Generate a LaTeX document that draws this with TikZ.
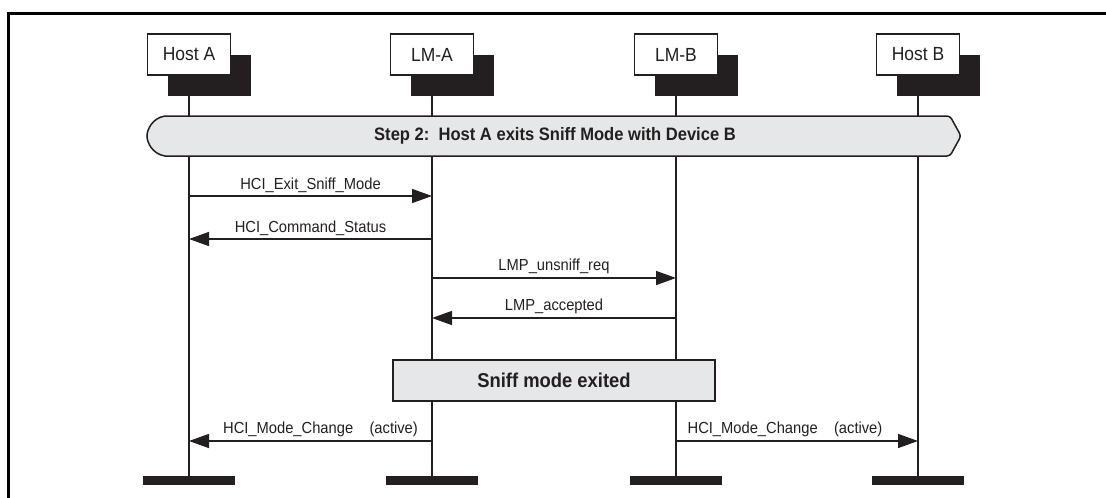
\documentclass[tikz,border=0pt]{standalone}
\usepackage{fontspec}
\setmainfont{Liberation Sans}[FakeStretch=0.92]
\usetikzlibrary{arrows.meta}
\definecolor{ink}{HTML}{231F20}
\definecolor{boxgray}{HTML}{E6E7E8}
\begin{document}
\begin{tikzpicture}[x=1pt, y=-1pt,
    ent/.style={draw=ink, line width=1.2pt, fill=white, minimum width=83pt,
      minimum height=41pt, inner sep=0pt, text=ink, font=\fontsize{19}{21}\selectfont},
    shadowbox/.style={fill=ink, minimum width=83pt, minimum height=41pt, inner sep=0pt},
    endbar/.style={fill=ink, minimum width=92pt, minimum height=9pt, inner sep=0pt},
    life/.style={draw=ink, line width=1.5pt},
    msg/.style={draw=ink, line width=1.5pt, -{Triangle[length=20pt, width=14pt]}},
    lbl/.style={above=3pt, inner sep=0pt, text=ink, font=\fontsize{16}{18}\selectfont},
    state/.style={draw=ink, line width=1.5pt, fill=boxgray, text=ink,
      font=\bfseries\fontsize{20}{22}\selectfont}]
  \useasboundingbox (0,0) rectangle (1106,498);
  \draw[line width=3pt] (1106,13) -- (8,13) -- (8,498);
  % instances and lifelines
  \foreach \n/\x/\t in {hostA/189/Host A, lmA/432/LM-A, lmB/676/LM-B, hostB/918/Host B} {
    \node[shadowbox] (\n-sh) at (\x+20,75.5) {};
    \node[ent] (\n) at (\x,54.5) {\t};
    \node[endbar] (\n-end) at (\x,480.5) {};
    \draw[life] (\n-sh.south -| \n) -- (\n-end.center);
  }
  % step banner
  \draw[state, rounded corners=3pt] (165,116) -- (950,116) -- (961,136) -- (950,156)
    [sharp corners] -- (165,156) .. controls (152,154) and (147,142) .. (147,136)
    .. controls (147,130) and (152,118) .. (165,116) -- cycle;
  \node[text=ink, font=\bfseries\fontsize{18}{20}\selectfont] (step) at (555,136)
    {Step 2:\ \ Host A exits Sniff Mode with Device B};
  % messages
  \draw[msg] (hostA |- 0,196) -- (lmA |- 0,196) node[lbl, midway] {HCI\_Exit\_Sniff\_Mode};
  \draw[msg] (lmA |- 0,239) -- (hostA |- 0,239) node[lbl, midway] {HCI\_Command\_Status};
  \draw[msg] (lmA |- 0,278) -- (lmB |- 0,278) node[lbl, midway] {LMP\_unsniff\_req};
  \draw[msg] (lmB |- 0,318) -- (lmA |- 0,318) node[lbl, midway] {LMP\_accepted};
  \node[state, minimum width=322pt, minimum height=41pt] (exited) at (554,380.5)
    {Sniff mode exited};
  \draw[msg] (lmA |- 0,441) -- (hostA |- 0,441)
    node[lbl, midway, xshift=10pt] {HCI\_Mode\_Change\ \ \ \ (active)};
  \draw[msg] (lmB |- 0,441) -- (hostB |- 0,441)
    node[lbl, midway, xshift=-12pt] {HCI\_Mode\_Change\ \ \ \ (active)};
\end{tikzpicture}
\end{document}
